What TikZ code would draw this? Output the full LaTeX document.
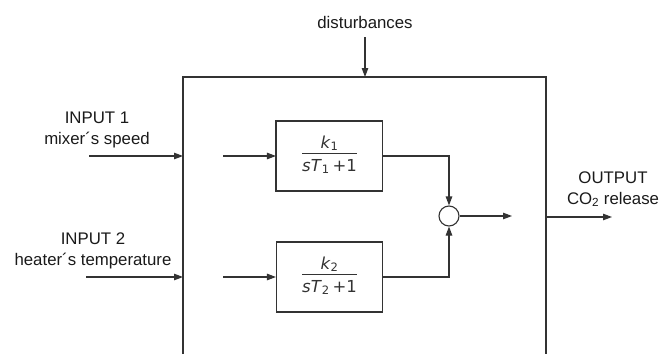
\documentclass[tikz,border=0pt]{standalone}
\usepackage{fontspec}
\setmainfont{Liberation Sans}
\newfontfamily\dvfont{DejaVu Sans}
\usetikzlibrary{arrows.meta}
\definecolor{ln}{HTML}{333333}
\definecolor{tx}{HTML}{1A1A1A}
\newcommand{\tffrac}[1]{\begin{tabular}{@{}c@{}}\textit{k}\textsubscript{#1}\\[-1pt]\hline\rule{0pt}{18pt}\textit{sT}\textsubscript{#1}\,+1\end{tabular}}
\tikzset{
  lbl/.style={font=\fontsize{16.8}{20.5}\selectfont, text=tx, inner sep=0pt, align=center},
  wire/.style={draw=ln, line width=1.1pt},
  arr/.style={wire, -{Triangle[length=9pt,width=6.5pt]}},
  tfbox/.style={draw=ln, line width=1.1pt, minimum width=106pt, minimum height=70pt, inner sep=0pt, text=ln, font=\dvfont\fontsize{16.5}{18}\selectfont},
  sumnode/.style={circle, draw=ln, line width=1.1pt, minimum size=20pt, inner sep=0pt},
}
\begin{document}
\begin{tikzpicture}[x=1pt,y=-1pt]
\useasboundingbox (0,0) rectangle (662,354);
% process boundary (open at the bottom)
\coordinate (bbl) at (183,354);
\coordinate (btl) at (183,77);
\coordinate (btr) at (546,77);
\coordinate (bbr) at (546,354);
\draw[wire] (bbl) -- (btl) -- (btr) -- (bbr);
% disturbances
\node[lbl] (dist) at (365,22) {disturbances};
\coordinate (dtop) at (365,37);
\coordinate (din) at (365,77);
\draw[arr] (dtop) -- (din);
% inputs
\node[lbl] (in1) at (97,130) {INPUT 1\\mixer´s speed};
\coordinate (in1s) at (89,156);
\coordinate (in1e) at (183,156);
\draw[arr] (in1s) -- (in1e);
\node[lbl] (in2) at (93,251) {INPUT 2\\heater´s temperature};
\coordinate (in2s) at (86,277);
\coordinate (in2e) at (183,277);
\draw[arr] (in2s) -- (in2e);
% transfer function blocks
\node[tfbox] (tf1) at (329.5,156) {\tffrac{1}};
\node[tfbox] (tf2) at (329.5,277) {\tffrac{2}};
\draw[ln, line width=1.8pt] (tf1.north west) -- (tf1.south west) -- (tf1.south east);
\draw[ln, line width=1.8pt] (tf2.south west) -- (tf2.south east);
\coordinate (u1) at (223,156);
\coordinate (u2) at (223,277);
\draw[arr] (u1) -- (tf1.west);
\draw[arr] (u2) -- (tf2.west);
% summing junction
\node[sumnode] (sum) at (449,216) {};
\draw[arr] (tf1.east) -| (sum.north);
\draw[arr] (tf2.east) -| (sum.south);
\coordinate (sout) at (512,216);
\draw[arr] (sum.east) -- (sout);
% output
\coordinate (os) at (546,217);
\coordinate (oe) at (612,217);
\draw[arr] (os) -- (oe);
\node[lbl] (out) at (613,189.5) {OUTPUT\\CO\textsubscript{2} release};
\end{tikzpicture}
\end{document}
